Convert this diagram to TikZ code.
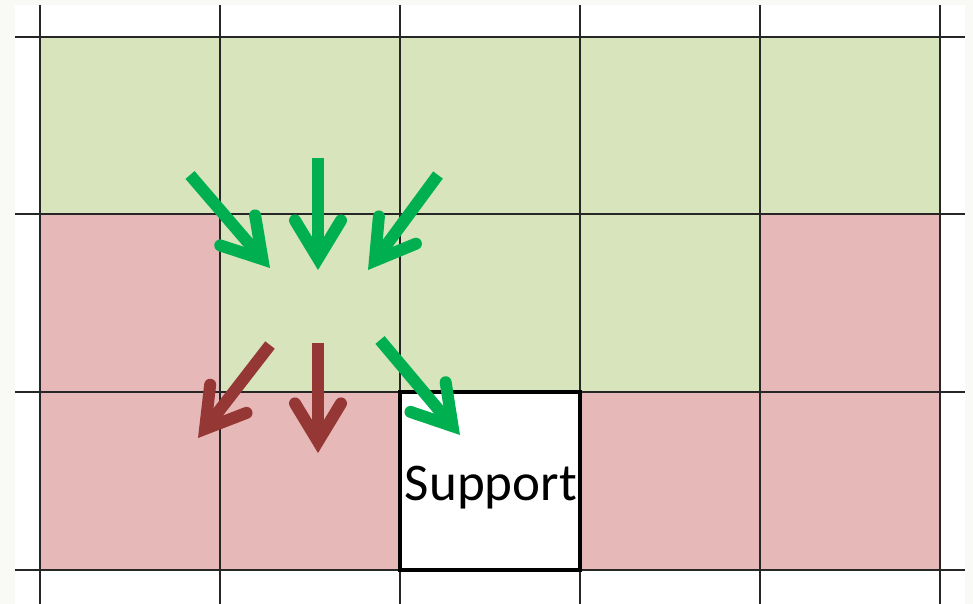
\documentclass[tikz,border=0pt]{standalone}
\usepackage{fontspec}
\setmainfont{Carlito}
\usetikzlibrary{arrows.meta}
\definecolor{cellgreen}{HTML}{D8E4BC}
\definecolor{cellred}{HTML}{E6B8B7}
\definecolor{arrgreen}{HTML}{00B050}
\definecolor{arrred}{HTML}{953735}
\definecolor{bgout}{HTML}{F9FAF5}
\tikzset{
  gridline/.style={draw=black!85, line width=2.6pt},
  flow/.style={line width=12pt, line cap=butt,
    -{Straight Barb[length=38pt,width=46pt,line cap=round,line join=miter]}},
  gflow/.style={flow, draw=arrgreen},
  rflow/.style={flow, draw=arrred},
}
\begin{document}
\begin{tikzpicture}[x=1pt,y=-1pt]
\useasboundingbox (0,0) rectangle (973,604);
\fill[bgout] (0,0) rectangle (973,604);
\fill[white] (15,5) rectangle (965,604);
% row 1
\fill[cellgreen] (40,37) rectangle (940,214);
% row 2
\fill[cellred] (40,214) rectangle (220,392);
\fill[cellgreen] (220,214) rectangle (760,392);
\fill[cellred] (760,214) rectangle (940,392);
% row 3
\fill[cellred] (40,392) rectangle (400,570);
\fill[cellred] (580,392) rectangle (940,570);
% grid lines
\foreach \x in {40,220,400,580,760,940} \draw[gridline] (\x,5) -- (\x,604);
\foreach \y in {37,214,392,570} \draw[gridline] (15,\y) -- (965,\y);
% support cell
\node[draw=black, line width=4.5pt, fill=white, minimum width=180pt, minimum height=178pt, inner sep=0pt] (support) at (490,481) {};
\node[font=\fontsize{53}{53}\selectfont, text=black, anchor=base, inner sep=0pt] (suptext) at (491,500) {Support};
% arrows
\coordinate (a1) at (190,175); \coordinate (a2) at (270,268);
\coordinate (b1) at (318,158); \coordinate (b2) at (318,270);
\coordinate (c1) at (438,175); \coordinate (c2) at (368,270);
\coordinate (d1) at (270,345); \coordinate (d2) at (198,438);
\coordinate (e1) at (318,343); \coordinate (e2) at (318,453);
\coordinate (f1) at (380,340); \coordinate (f2) at (460,435);
\draw[gflow] (a1) -- (a2);
\draw[gflow] (b1) -- (b2);
\draw[gflow] (c1) -- (c2);
\draw[rflow] (d1) -- (d2);
\draw[rflow] (e1) -- (e2);
\draw[gflow] (f1) -- (f2);
\end{tikzpicture}
\end{document}
